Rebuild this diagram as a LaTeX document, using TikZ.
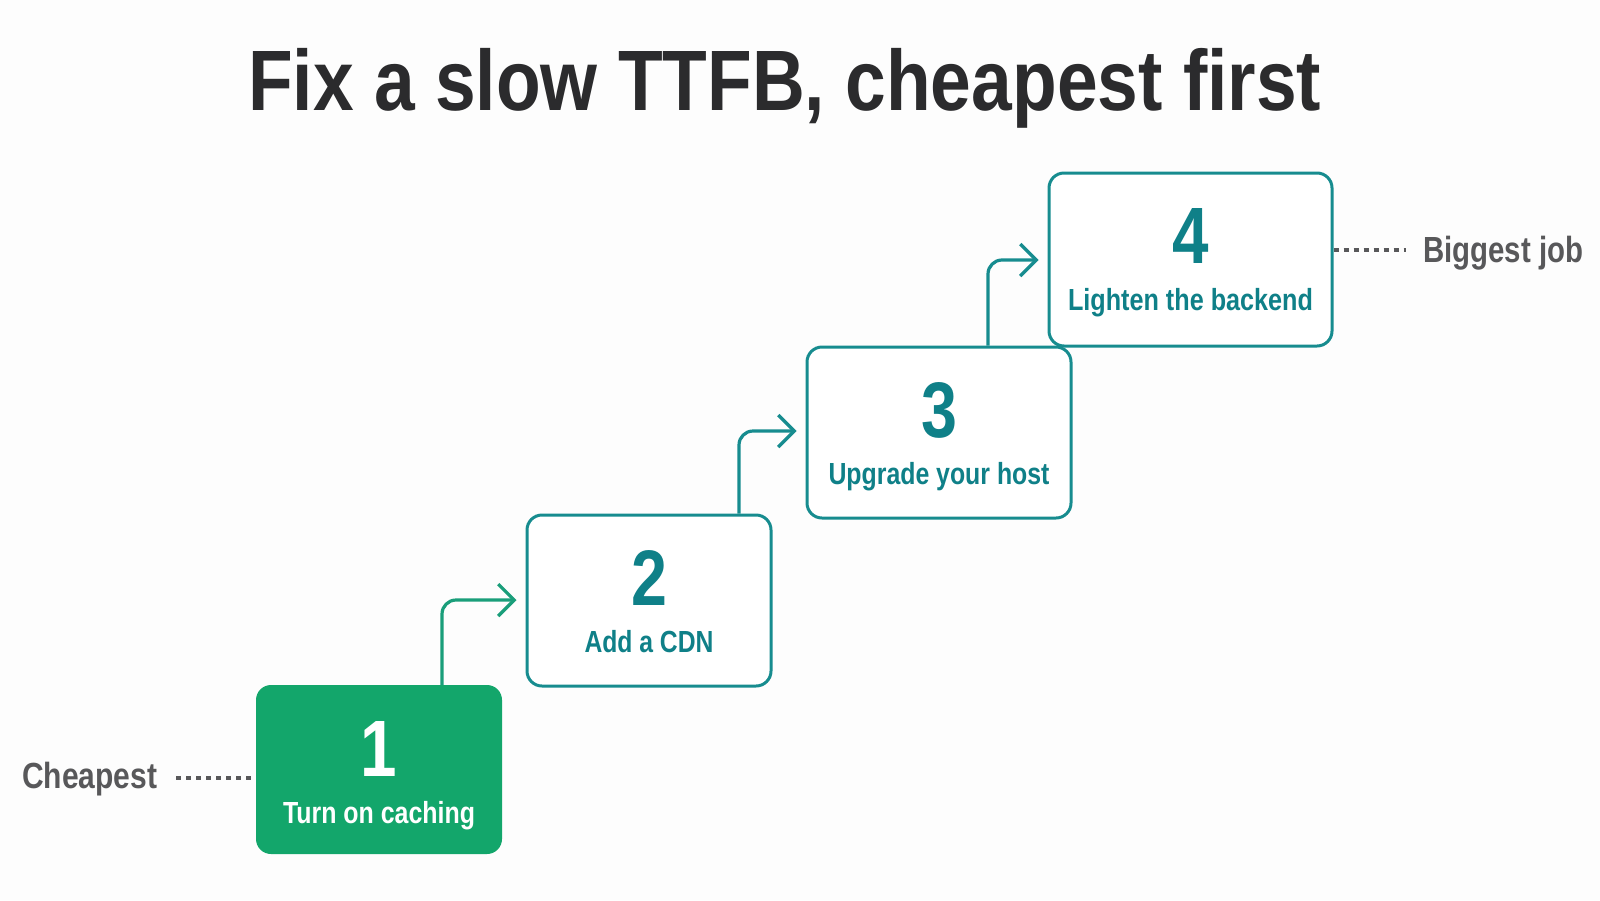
\documentclass[tikz,border=0pt]{standalone}
\usepackage{fontspec}
\usepackage{graphicx}
\setmainfont{Liberation Sans}
\usetikzlibrary{arrows.meta}
\definecolor{bgc}{HTML}{FDFDFD}
\definecolor{titlec}{HTML}{2B2B2D}
\definecolor{greenc}{HTML}{13A66B}
\definecolor{tealc}{HTML}{178C8F}
\definecolor{tealtext}{HTML}{0F8088}
\definecolor{arrowone}{HTML}{1A9E7A}
\definecolor{grayc}{HTML}{58585A}
\newlength\fitW
\newlength\fitH
\newcommand\fitwh[3]{\settowidth\fitW{#3}\settoheight\fitH{H}%
  \pgfmathsetmacro\fitsx{#1/\fitW}\pgfmathsetmacro\fitsy{#2/\fitH}%
  \scalebox{\fitsx}[\fitsy]{#3}}
\newcommand\fitnum[2]{\settoheight\fitH{#2}%
  \pgfmathsetmacro\fitsy{#1/\fitH}\pgfmathsetmacro\fitsx{0.82*\fitsy}%
  \scalebox{\fitsx}[\fitsy]{#2}}
\begin{document}
\begin{tikzpicture}[x=1pt,y=-1pt,
  stepbox/.style={draw=tealc,line width=3pt,rounded corners=15pt,fill=white,inner sep=0pt},
  firstbox/.style={fill=greenc,draw=none,rounded corners=15pt,inner sep=0pt},
  txt/.style={inner sep=0pt,anchor=base,font=\fontsize{30}{36}\selectfont\bfseries},
  numtxt/.style={txt,text=tealtext},
  labtxt/.style={txt,text=tealtext},
  side/.style={inner sep=0pt,anchor=base west,text=grayc,font=\fontsize{30}{36}\selectfont\bfseries},
  stair/.style={line width=3.2pt,rounded corners=14pt,-{Straight Barb[length=16pt,width=32pt,line width=3.2pt]}},
  dots/.style={draw=grayc,line width=3.2pt,dash pattern=on 5pt off 5pt}
]
\useasboundingbox[fill=bgc] (0,0) rectangle (1600,900);
% title
\node[txt,text=titlec,anchor=base west] (title) at (248,110)
  {\fitwh{1073pt}{59pt}{Fix a slow TTFB, cheapest first}};
% boxes
\node[firstbox,minimum width=246pt,minimum height=169pt] (b1) at (379,769.5) {};
\node[stepbox,minimum width=244pt,minimum height=171pt] (b2) at (649,600.5) {};
\node[stepbox,minimum width=264pt,minimum height=171pt] (b3) at (939,432.5) {};
\node[stepbox,minimum width=283pt,minimum height=173pt] (b4) at (1190.5,259.5) {};
% box texts
\node[numtxt,text=white] (n1) at ([yshift=-92pt]b1.north) {\fitnum{55pt}{1}};
\node[labtxt,text=white] (l1) at ([yshift=-139pt]b1.north) {\fitwh{192pt}{21pt}{Turn on caching}};
\node[numtxt] (n2) at ([yshift=-92pt]b2.north) {\fitnum{55pt}{2}};
\node[labtxt] (l2) at ([yshift=-139pt]b2.north) {\fitwh{129pt}{21pt}{Add a CDN}};
\node[numtxt] (n3) at ([yshift=-92pt]b3.north) {\fitnum{55pt}{3}};
\node[labtxt] (l3) at ([yshift=-139pt]b3.north) {\fitwh{221pt}{21pt}{Upgrade your host}};
\node[numtxt] (n4) at ([yshift=-92pt]b4.north) {\fitnum{55pt}{4}};
\node[labtxt] (l4) at ([yshift=-139pt]b4.north) {\fitwh{245pt}{21pt}{Lighten the backend}};
% stair arrows
\coordinate (c1) at (442,600);
\coordinate (c2) at (739,431);
\coordinate (c3) at (988,260);
\draw[stair,draw=arrowone] (b1.north -| c1) |- ([xshift=-9pt]b2.west |- c1);
\draw[stair,draw=tealc] (b2.north -| c2) |- ([xshift=-9pt]b3.west |- c2);
\draw[stair,draw=tealc] (b3.north -| c3) |- ([xshift=-9pt]b4.west |- c3);
% side labels
\node[side] (cheap) at (22,788) {\fitwh{135pt}{25pt}{Cheapest}};
\node[side] (big) at (1423,262) {\fitwh{160pt}{25pt}{Biggest job}};
\coordinate (d1) at (176,778);
\coordinate (d2) at (1406,250);
\draw[dots] (d1) -- (b1.west |- d1);
\draw[dots] (b4.east |- d2) -- (d2);
\end{tikzpicture}
\end{document}
